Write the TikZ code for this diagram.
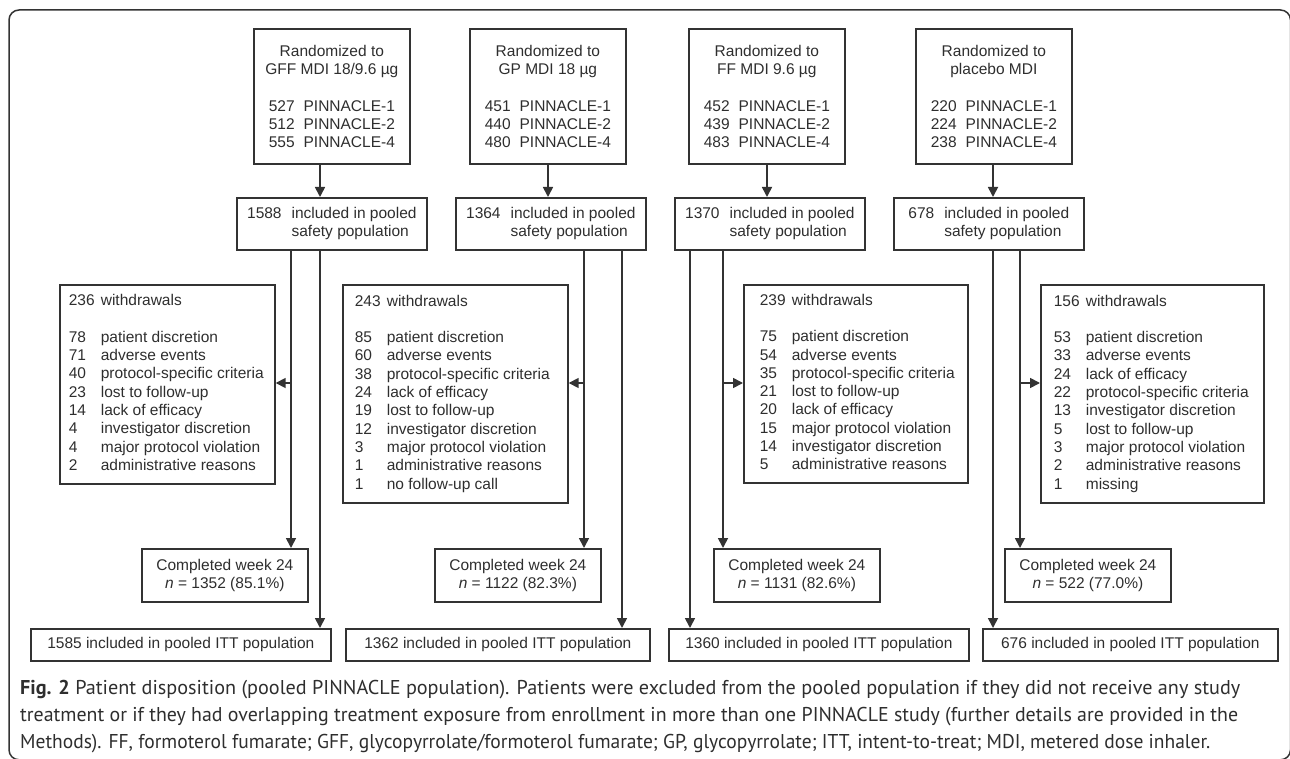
\documentclass[tikz,border=0pt]{standalone}
\usepackage{fontspec}
\usepackage{graphicx}
\setmainfont{Liberation Sans}
\newfontfamily\capfont{PT Sans}
\usetikzlibrary{arrows.meta}
\definecolor{linec}{HTML}{333333}
\definecolor{textc}{HTML}{2E2E2E}
\newcommand{\bfnt}{\fontsize{15.5}{18.3}\selectfont}
\newcommand{\sfl}[1]{\begin{tabular}{@{}l@{\hspace{10pt}}l@{}}#1 & included in pooled\\ & safety population\end{tabular}}
\newcommand{\wlist}[2]{\begin{minipage}{#1}\begin{tabular}{@{}p{32pt}@{}l@{}}#2\end{tabular}\end{minipage}}
\begin{document}
\begin{tikzpicture}[x=1pt,y=-1pt,
  box/.style={draw=linec, line width=1.7pt, text=textc, font=\bfnt, inner sep=0pt, align=center, anchor=north west},
  conn/.style={draw=linec, line width=1.7pt},
  arr/.style={conn, -{Triangle[length=10pt,width=10pt]}},
  capline/.style={anchor=west, text=textc, inner sep=0pt, font=\capfont\fontsize{20}{24}\selectfont}]
\useasboundingbox (0,0) rectangle (1290,759);
\begin{scope}
\clip (0,0) rectangle (1290,759);
\draw[linec, line width=1.5pt, rounded corners=10pt] (9,10) rectangle (1290.5,759.8);
\end{scope}

% top boxes
\node[box, minimum width=156pt, minimum height=135pt] (t1) at (253,28) {Randomized to\\GFF MDI 18/9.6 µg\\[18.3pt]527\hspace{9pt}PINNACLE-1\\512\hspace{9pt}PINNACLE-2\\555\hspace{9pt}PINNACLE-4};
\node[box, minimum width=156pt, minimum height=135pt] (t2) at (469,28) {Randomized to\\GP MDI 18 µg\\[18.3pt]451\hspace{9pt}PINNACLE-1\\440\hspace{9pt}PINNACLE-2\\480\hspace{9pt}PINNACLE-4};
\node[box, minimum width=156pt, minimum height=135pt] (t3) at (688,28) {Randomized to\\FF MDI 9.6 µg\\[18.3pt]452\hspace{9pt}PINNACLE-1\\439\hspace{9pt}PINNACLE-2\\483\hspace{9pt}PINNACLE-4};
\node[box, minimum width=156pt, minimum height=135pt] (t4) at (915,28) {Randomized to\\placebo MDI\\[18.3pt]220\hspace{9pt}PINNACLE-1\\224\hspace{9pt}PINNACLE-2\\238\hspace{9pt}PINNACLE-4};

% safety boxes
\node[box, minimum width=190pt, minimum height=52pt] (s1) at (236,197) {\sfl{1588}};
\node[box, minimum width=190pt, minimum height=52pt] (s2) at (455,197) {\sfl{1364}};
\node[box, minimum width=190pt, minimum height=52pt] (s3) at (674,197) {\sfl{1370}};
\node[box, minimum width=190pt, minimum height=52pt] (s4) at (893,197) {\sfl{678}};

% withdrawal boxes
\node[box, minimum height=199pt, inner xsep=9pt] (w1) at (59,284) {\wlist{197pt}{236 & withdrawals\\[18.3pt]
78 & patient discretion\\ 71 & adverse events\\ 40 & protocol-specific criteria\\ 23 & lost to follow-up\\ 14 & lack of efficacy\\ 4 & investigator discretion\\ 4 & major protocol violation\\ 2 & administrative reasons}};
\node[box, minimum height=218pt, inner xsep=12pt] (w2) at (342,284) {\wlist{201pt}{243 & withdrawals\\[18.3pt]
85 & patient discretion\\ 60 & adverse events\\ 38 & protocol-specific criteria\\ 24 & lack of efficacy\\ 19 & lost to follow-up\\ 12 & investigator discretion\\ 3 & major protocol violation\\ 1 & administrative reasons\\ 1 & no follow-up call}};
\node[box, minimum height=198pt, inner xsep=16pt] (w3) at (743,284) {\wlist{192pt}{239 & withdrawals\\[18.3pt]
75 & patient discretion\\ 54 & adverse events\\ 35 & protocol-specific criteria\\ 21 & lost to follow-up\\ 20 & lack of efficacy\\ 15 & major protocol violation\\ 14 & investigator discretion\\ 5 & administrative reasons}};
\node[box, minimum height=218pt, inner xsep=13pt] (w4) at (1040,284) {\wlist{197pt}{156 & withdrawals\\[18.3pt]
53 & patient discretion\\ 33 & adverse events\\ 24 & lack of efficacy\\ 22 & protocol-specific criteria\\ 13 & investigator discretion\\ 5 & lost to follow-up\\ 3 & major protocol violation\\ 2 & administrative reasons\\ 1 & missing}};

% completed boxes
\node[box, minimum width=166pt, minimum height=53pt] (c1) at (141,548) {Completed week 24\\\textit{n} = 1352 (85.1\%)};
\node[box, minimum width=166pt, minimum height=53pt] (c2) at (434,548) {Completed week 24\\\textit{n} = 1122 (82.3\%)};
\node[box, minimum width=166pt, minimum height=53pt] (c3) at (713,548) {Completed week 24\\\textit{n} = 1131 (82.6\%)};
\node[box, minimum width=166pt, minimum height=53pt] (c4) at (1004,548) {Completed week 24\\\textit{n} = 522 (77.0\%)};

% ITT boxes
\node[box, minimum width=300pt, minimum height=32pt] (i1) at (30,628) {1585 included in pooled ITT population};
\node[box, minimum width=304pt, minimum height=32pt] (i2) at (345,628) {1362 included in pooled ITT population};
\node[box, minimum width=300pt, minimum height=32pt] (i3) at (668,628) {1360 included in pooled ITT population};
\node[box, minimum width=295pt, minimum height=32pt] (i4) at (982,628) {676 included in pooled ITT population};

% connector x positions
\coordinate (x1a) at (291,0); \coordinate (x1b) at (320,0);
\coordinate (x2t) at (548,0); \coordinate (x2a) at (584,0); \coordinate (x2b) at (622,0);
\coordinate (x3t) at (767,0); \coordinate (x3a) at (723,0); \coordinate (x3b) at (690,0);
\coordinate (x4a) at (1020,0); \coordinate (x4b) at (993,0);
\coordinate (ay) at (0,383);

\draw[arr] (t1.south -| x1b) -- (s1.north -| x1b);
\draw[arr] (t2.south -| x2t) -- (s2.north -| x2t);
\draw[arr] (t3.south -| x3t) -- (s3.north -| x3t);
\draw[arr] (t4.south -| x4b) -- (s4.north -| x4b);

\draw[arr] (s1.south -| x1a) -- (c1.north -| x1a);
\draw[arr] (s1.south -| x1b) -- (i1.north -| x1b);
\draw[arr] (x1a |- ay) -- (w1.east |- ay);

\draw[arr] (s2.south -| x2a) -- (c2.north -| x2a);
\draw[arr] (s2.south -| x2b) -- (i2.north -| x2b);
\draw[arr] (x2a |- ay) -- (w2.east |- ay);

\draw[arr] (s3.south -| x3a) -- (c3.north -| x3a);
\draw[arr] (s3.south -| x3b) -- (i3.north -| x3b);
\draw[arr] (x3a |- ay) -- (w3.west |- ay);

\draw[arr] (s4.south -| x4a) -- (c4.north -| x4a);
\draw[arr] (s4.south -| x4b) -- (i4.north -| x4b);
\draw[arr] (x4a |- ay) -- (w4.west |- ay);

% caption
\node[capline] (cap1) at (20,690) {\resizebox{1220pt}{\height}{\textbf{Fig. 2} Patient disposition (pooled PINNACLE population). Patients were excluded from the pooled population if they did not receive any study}};
\node[capline] (cap2) at (20,717) {\resizebox{1218pt}{\height}{treatment or if they had overlapping treatment exposure from enrollment in more than one PINNACLE study (further details are provided in the}};
\node[capline] (cap3) at (20,744) {\resizebox{1190pt}{\height}{Methods). FF, formoterol fumarate; GFF, glycopyrrolate/formoterol fumarate; GP, glycopyrrolate; ITT, intent-to-treat; MDI, metered dose inhaler.}};
\end{tikzpicture}
\end{document}
